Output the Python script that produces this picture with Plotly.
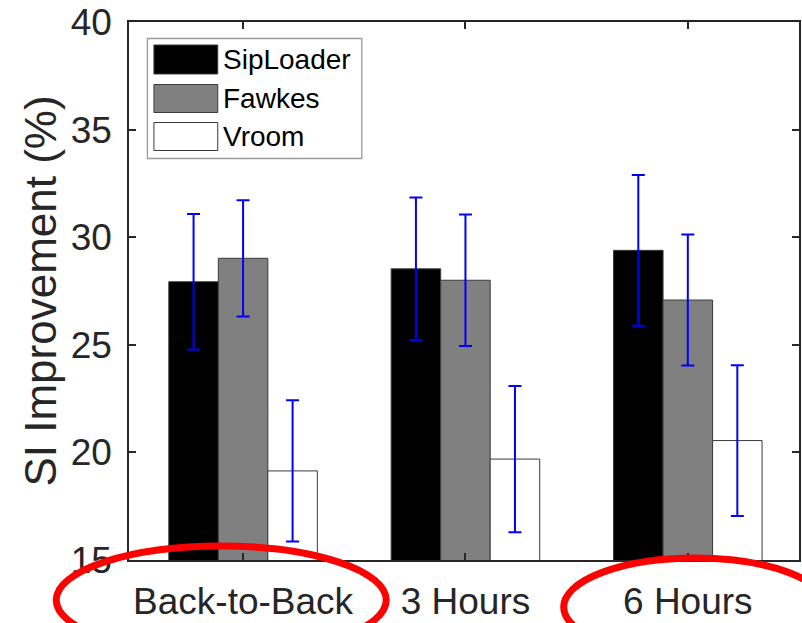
import plotly.graph_objects as go

# Categories and series (SI improvement, %) with their error half-widths
categories = ["Back-to-Back", "3 Hours", "6 Hours"]
cat_pos = [1, 2, 3]

siploader = [27.93, 28.53, 29.39]
siploader_err = [3.15, 3.31, 3.50]

fawkes = [29.02, 28.00, 27.08]
fawkes_err = [2.70, 3.06, 3.04]

vroom = [19.14, 19.69, 20.55]
vroom_err = [3.28, 3.40, 3.50]

series_names = ["SipLoader", "Fawkes", "Vroom"]
series_fill = ["#000000", "#808080", "#ffffff"]

y_ticks = [15, 20, 25, 30, 35, 40]

W, H = 802, 623
ML, MR, MT, MB = 129, 1, 22, 63
PW, PH = W - ML - MR, H - MT - MB

FONT = "Liberation Sans, Arial, Helvetica, sans-serif"
AX = "#262626"


def px(x):
    return (x - ML) / PW


def py(y):
    return (H - MB - y) / PH


fig = go.Figure()
for name, vals, errs, fill in zip(series_names,
                                  [siploader, fawkes, vroom],
                                  [siploader_err, fawkes_err, vroom_err],
                                  series_fill):
    fig.add_trace(go.Bar(
        name=name, x=cat_pos, y=vals,
        marker=dict(color=fill, line=dict(color="#3a3a3a", width=1)),
        error_y=dict(type="data", array=errs, visible=True,
                     color="#0000ff", thickness=2, width=6.5),
        showlegend=False,
    ))

shapes = []
annotations = []

# Legend box with large swatches
shapes.append(dict(type="rect", xref="paper", yref="paper",
                   x0=px(147.5), x1=px(362.5), y0=py(158.5), y1=py(38.5),
                   line=dict(color="#9a9a9a", width=1.3), fillcolor="#ffffff",
                   layer="above"))
rows = [(45, 74), (84.5, 112.5), (122.5, 150.5)]
for (top, bot), name, fill in zip(rows, series_names, series_fill):
    shapes.append(dict(type="rect", xref="paper", yref="paper",
                       x0=px(154), x1=px(218), y0=py(bot), y1=py(top),
                       line=dict(color="#3a3a3a", width=1), fillcolor=fill,
                       layer="above"))
    annotations.append(dict(xref="paper", yref="paper", x=px(221),
                            y=py((top + bot) / 2), text=name, showarrow=False,
                            xanchor="left", yanchor="middle",
                            font=dict(family=FONT, size=28, color="#000000")))

# Red ellipses highlighting two conditions
shapes.append(dict(type="circle", xref="paper", yref="paper",
                   x0=px(56), x1=px(387), y0=py(654), y1=py(546),
                   line=dict(color="#ff0000", width=7), layer="above"))
shapes.append(dict(type="circle", xref="paper", yref="paper",
                   x0=px(565), x1=px(829), y0=py(656), y1=py(558),
                   line=dict(color="#ff0000", width=7), layer="above"))

fig.update_layout(
    width=W, height=H,
    margin=dict(l=ML, r=MR, t=MT, b=MB, pad=0),
    paper_bgcolor="#ffffff", plot_bgcolor="#ffffff",
    barmode="group", bargap=0.332, bargroupgap=0,
    showlegend=False,
    font=dict(family=FONT, color=AX),
    shapes=shapes, annotations=annotations,
)
fig.update_xaxes(
    range=[0.487, 3.5], tickvals=cat_pos, ticktext=categories,
    showline=True, mirror="ticks", linecolor=AX, linewidth=1.5,
    ticks="inside", ticklen=7, tickwidth=1.5, tickcolor=AX,
    showgrid=False, zeroline=False, ticklabelstandoff=8,
    tickfont=dict(family=FONT, size=37, color=AX),
)
fig.update_yaxes(
    range=[15, 40], tickvals=y_ticks,
    showline=True, mirror="ticks", linecolor=AX, linewidth=1.5,
    ticks="inside", ticklen=7, tickwidth=1.5, tickcolor=AX,
    showgrid=False, zeroline=False, ticklabelstandoff=8,
    tickfont=dict(family=FONT, size=37, color=AX),
    title=dict(text="SI Improvement (%)", standoff=0,
               font=dict(family=FONT, size=44, color=AX)),
)

fig.write_html("out.html")
